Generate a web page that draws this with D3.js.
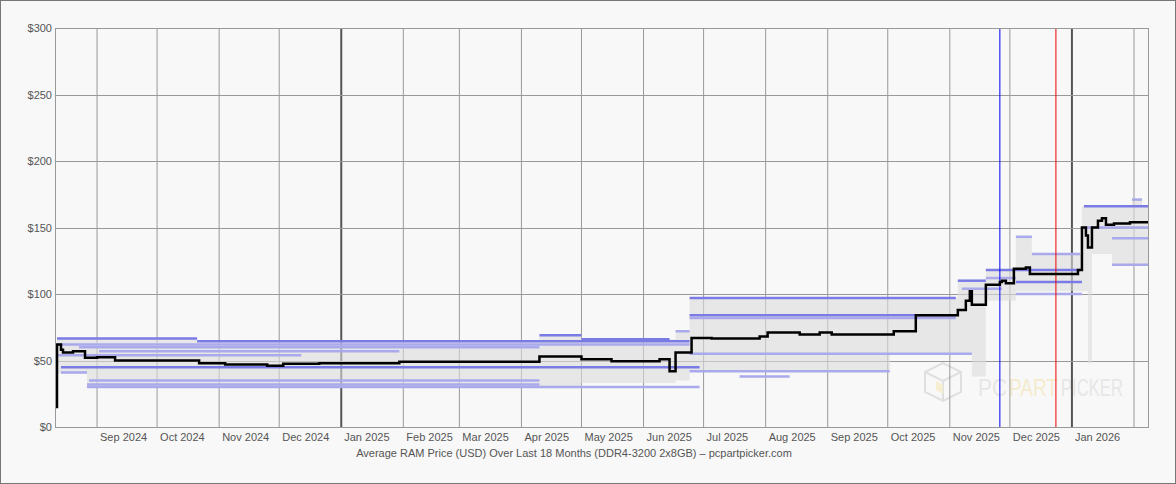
<!DOCTYPE html>
<html><head><meta charset="utf-8">
<script src="https://cdn.jsdelivr.net/npm/d3@7"></script>
<style>body{margin:0;background:#f8f8f8}svg{display:block}text{font-family:"Liberation Sans",Arial,sans-serif}</style>
</head><body><svg id="chart" width="1176" height="484"></svg>
<script>
// average price (step line)
const avgDates = ["2024-08-11","2024-08-12","2024-08-14","2024-08-15","2024-08-20","2024-08-26","2024-09-01","2024-09-10","2024-10-22","2024-11-04","2024-11-25","2024-12-03","2024-12-21","2025-01-30","2025-04-10","2025-05-01","2025-05-16","2025-06-09","2025-06-14","2025-06-17","2025-06-25","2025-07-05","2025-07-29","2025-08-02","2025-08-18","2025-08-28","2025-09-03","2025-10-04","2025-10-15","2025-11-05","2025-11-09","2025-11-11","2025-11-12","2025-11-17","2025-11-19","2025-11-26","2025-11-27","2025-11-29","2025-12-03","2025-12-09","2025-12-11","2026-01-04","2026-01-06","2026-01-08","2026-01-09","2026-01-11","2026-01-14","2026-01-16","2026-01-18","2026-01-22","2026-01-30","2026-02-08"];
const avgPrices = [15,62,58,56,57,52,52.5,50,48,47,46,47.5,48,49,53,51,49.5,51,42,56,67,66.5,68,71,69.5,71,69.5,72,84,88,95,102,92,92,107,109,110,108,119,120,115,118,150,144,135,150,155,157,152,153,154,154];

// min / max range band
const bandDates = ["2024-08-12","2024-08-27","2024-10-21","2025-04-10","2025-05-01","2025-06-17","2025-06-24","2025-10-02","2025-11-05","2025-11-12","2025-11-19","2025-12-04","2025-12-12","2026-01-06","2026-01-09","2026-01-11","2026-01-21","2026-01-31","2026-02-05","2026-02-08"];
const bandMax = [67,67,65,69,66,72,97,97,110,110,118,143,130,166,166,166,166,171,166,166];
const bandMin = [40,30,30,30,33,35,42,55,55,38,95,102,102,102,48,130,122,122,122,122];

// individual retailer prices
const segStart = ["2024-08-12","2024-10-21","2024-08-12","2024-08-23","2024-09-02","2024-08-12","2024-08-14","2024-08-14","2024-08-28","2024-08-27","2024-08-27","2025-04-10","2025-05-01","2025-06-17","2025-06-24","2025-06-24","2025-06-24","2025-06-24","2025-06-24","2025-07-19","2025-11-05","2025-11-07","2025-11-19","2025-11-19","2025-12-04","2025-12-04","2025-12-12","2025-12-04","2026-01-07","2026-01-07","2026-01-21","2026-01-21","2026-01-31"];
const segEnd   = ["2024-10-21","2025-06-24","2025-06-24","2025-04-10","2025-01-30","2024-12-12","2025-06-29","2024-08-27","2025-04-10","2025-04-10","2025-06-29","2025-05-01","2025-06-14","2025-06-24","2025-11-04","2025-11-04","2025-11-04","2025-11-12","2025-10-02","2025-08-13","2025-11-19","2025-11-27","2026-01-05","2025-12-04","2026-01-06","2026-01-06","2026-01-05","2025-12-12","2026-02-08","2026-02-08","2026-02-08","2026-02-08","2026-02-05"];
const segPrice = [66.5,64.5,62,60,57,54,45,41,35,32,30,69,66,72,97,84,82,55,42,38,110,104,118,112,109,100,130,143,166,150,142,122,171];
const segStrong = [1,1,0,0,0,0,1,0,0,0,0,1,1,0,1,1,0,0,0,0,1,0,1,0,1,0,0,0,1,0,0,0,0];

const priceTicks = [0,50,100,150,200,250,300];
const monthTicks = ["2024-09-01","2024-10-01","2024-11-01","2024-12-01","2025-01-01","2025-02-01","2025-03-01","2025-04-01","2025-05-01","2025-06-01","2025-07-01","2025-08-01","2025-09-01","2025-10-01","2025-11-01","2025-12-01","2026-01-01","2026-02-01"];
const monthLabels = ["Sep 2024","Oct 2024","Nov 2024","Dec 2024","Jan 2025","Feb 2025","Mar 2025","Apr 2025","May 2025","Jun 2025","Jul 2025","Aug 2025","Sep 2025","Oct 2025","Nov 2025","Dec 2025","Jan 2026",""];
const markerDates = ["2025-11-26","2025-12-24"];
const markerColors = ["#0000ee","#ee0000"];

const P = d3.utcParse("%Y-%m-%d");
const svg = d3.select("#chart");
const m = {left: 55, right: 28, top: 28, bottom: 57};
const W = 1176, H = 484;
const x = d3.scaleUtc().domain([P("2024-08-11"), P("2026-02-08")]).range([m.left, W - m.right]);
const y = d3.scaleLinear().domain([0, 300]).range([H - m.bottom, m.top]);

svg.append("rect").attr("x", 0.5).attr("y", 0.5).attr("width", W - 1).attr("height", H - 1)
  .attr("fill", "#f8f8f8").attr("stroke", "#777");

// watermark
const wm = svg.append("g").attr("opacity", 0.55);
wm.append("path").attr("d", "M925,372 l18,-9 l18,9 v20 l-18,9 l-18,-9 z M925,372 l18,9 l18,-9 M943,381 v20")
  .attr("fill", "none").attr("stroke", "#ccc").attr("stroke-width", 2);
wm.append("path").attr("d", "M936,381 l7,4 v9 l-7,-4 z").attr("fill", "#f5e6b0");
[["PC", 978, 29, "#d8d8d8"], ["PART", 1009, 49, "#f2e2aa"], ["PICKER", 1061, 62, "#d8d8d8"]].forEach(([t, px, len, c]) =>
  wm.append("text").attr("x", px).attr("y", 396).attr("font-size", 24).attr("fill", c)
    .attr("textLength", len).attr("lengthAdjust", "spacingAndGlyphs").text(t));

// grid
svg.append("g").selectAll("line").data(monthTicks).join("line")
  .attr("x1", d => x(P(d))).attr("x2", d => x(P(d)))
  .attr("y1", m.top).attr("y2", H - m.bottom)
  .attr("stroke", d => d.endsWith("01-01") ? "#555" : "#999")
  .attr("stroke-width", d => d.endsWith("01-01") ? 2 : 1);
svg.append("g").selectAll("line").data(priceTicks).join("line")
  .attr("x1", m.left).attr("x2", W - m.right)
  .attr("y1", d => Math.round(y(d)) + 0.5).attr("y2", d => Math.round(y(d)) + 0.5)
  .attr("stroke", "#999");

// band
const band = bandDates.map((d, i) => ({d: P(d), lo: bandMin[i], hi: bandMax[i]}));
svg.append("path").datum(band)
  .attr("fill", "#dcdcdc").attr("opacity", 0.6)
  .attr("d", d3.area().curve(d3.curveStepAfter).x(d => x(d.d)).y0(d => y(d.lo)).y1(d => y(d.hi)));

// retailer segments
svg.append("g").selectAll("line").data(segPrice).join("line")
  .attr("x1", (d, i) => x(P(segStart[i]))).attr("x2", (d, i) => x(P(segEnd[i])))
  .attr("y1", d => y(d)).attr("y2", d => y(d))
  .attr("stroke", (d, i) => segStrong[i] ? "#7b7be6" : "#a9a9ec")
  .attr("stroke-width", 2.5);

// markers
svg.append("g").selectAll("line").data(markerDates).join("line")
  .attr("x1", d => x(P(d))).attr("x2", d => x(P(d)))
  .attr("y1", m.top).attr("y2", H - m.bottom)
  .attr("stroke", (d, i) => markerColors[i]);

// average line
const avg = avgDates.map((d, i) => ({d: P(d), v: avgPrices[i]}));
svg.append("path").datum(avg)
  .attr("fill", "none").attr("stroke", "#000").attr("stroke-width", 2.5)
  .attr("d", d3.line().curve(d3.curveStepAfter).x(d => x(d.d)).y(d => y(d.v)));

// plot frame
svg.append("rect").attr("x", m.left + 0.5).attr("y", m.top + 0.5)
  .attr("width", W - m.left - m.right).attr("height", H - m.top - m.bottom)
  .attr("fill", "none").attr("stroke", "#999");

// axes labels
svg.append("g").selectAll("text").data(priceTicks).join("text")
  .attr("x", m.left - 3).attr("y", d => y(d) + 4).attr("text-anchor", "end")
  .attr("font-size", 11).attr("fill", "#555").text(d => "$" + d);
svg.append("g").selectAll("text").data(monthTicks).join("text")
  .attr("x", d => x(P(d)) + 3).attr("y", H - m.bottom + 14)
  .attr("font-size", 11).attr("fill", "#555").text((d, i) => monthLabels[i]);
svg.append("text").attr("x", 574).attr("y", 457).attr("text-anchor", "middle")
  .attr("font-size", 11).attr("fill", "#555")
  .text("Average RAM Price (USD) Over Last 18 Months (DDR4-3200 2x8GB) – pcpartpicker.com");
</script></body></html>
